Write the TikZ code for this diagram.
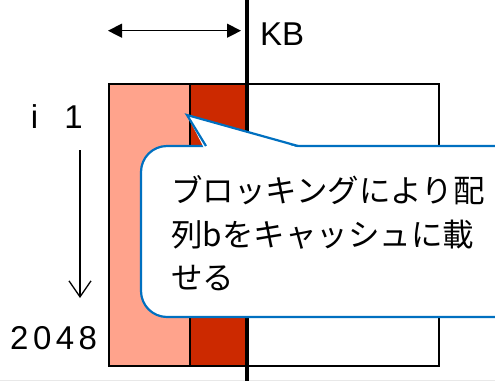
\documentclass[tikz,border=0pt]{standalone}
\usepackage{fontspec}
\setmainfont{Liberation Sans}
\newfontfamily\jpfont{Noto Sans CJK JP}
\usetikzlibrary{arrows.meta}
\definecolor{pinkfill}{RGB}{255,163,140}
\definecolor{redfill}{RGB}{204,41,0}
\definecolor{calloutblue}{RGB}{0,112,192}
\tikzset{
  frame/.style={draw=black, line width=1.3pt},
  labeltext/.style={inner sep=0pt, font=\fontsize{33}{40}\selectfont},
  jptext/.style={inner sep=0pt, anchor=base west, font=\jpfont\fontsize{31.5}{44}\selectfont},
  callout/.style={draw=calloutblue, line width=2.2pt, fill=white},
  dimarrow/.style={line width=1.3pt, {Triangle[length=14pt,width=14pt]}-{Triangle[length=14pt,width=14pt]}},
  downarrow/.style={line width=1.3pt, -{Straight Barb[length=16pt,width=22pt,line width=1.3pt]}}
}
\begin{document}
\begin{tikzpicture}[x=1pt,y=-1pt]
\useasboundingbox (0,0) rectangle (495,381);
\clip (0,0) rectangle (495,381);
% bottom border strip
\fill[gray!18] (0,379.5) rectangle (495,381);
% blocks
\fill[pinkfill] (109,84) rectangle (190,366);
\fill[redfill] (190,84) rectangle (246,366);
\draw[frame] (109,84) rectangle (439,366);
\draw[frame] (190,84) -- (190,366);
% thick boundary line
\coordinate (linetop) at (247,0);
\coordinate (linebot) at (247,381);
\draw[line width=4pt] (linetop) -- (linebot);
% dimension arrow
\coordinate (aL) at (108,30.7);
\coordinate (aR) at (241,30.7);
\draw[dimarrow] (aL) -- (aR);
\node[labeltext, anchor=base west] (kb) at (260,45) {KB};
% index labels
\node[labeltext, anchor=base] (ii) at (34.5,128) {i};
\node[labeltext, anchor=base] (ione) at (73.5,128) {1};
\coordinate (dTop) at (80,150);
\coordinate (dBot) at (80,298);
\draw[downarrow] (dTop) -- (dBot);
\node[labeltext, anchor=base west] (n2048) at (10,349) {2\kern4.5pt0\kern4.5pt4\kern4.5pt8};
% callout
\draw[callout, rounded corners=26pt] (141,146) rectangle (560,317);
\fill[white] (204,148) -- (187,115) -- (300,148) -- cycle;
\coordinate (tip) at (187,115);
\draw[calloutblue, line width=2.2pt, line join=miter] (206,146) -- (tip) -- (298,146);
\node[jptext] (t1) at (171,202) {ブロッキングにより配};
\node[jptext] (t2) at (171,246) {列bをキャッシュに載};
\node[jptext] (t3) at (171,289) {せる};
\end{tikzpicture}
\end{document}
